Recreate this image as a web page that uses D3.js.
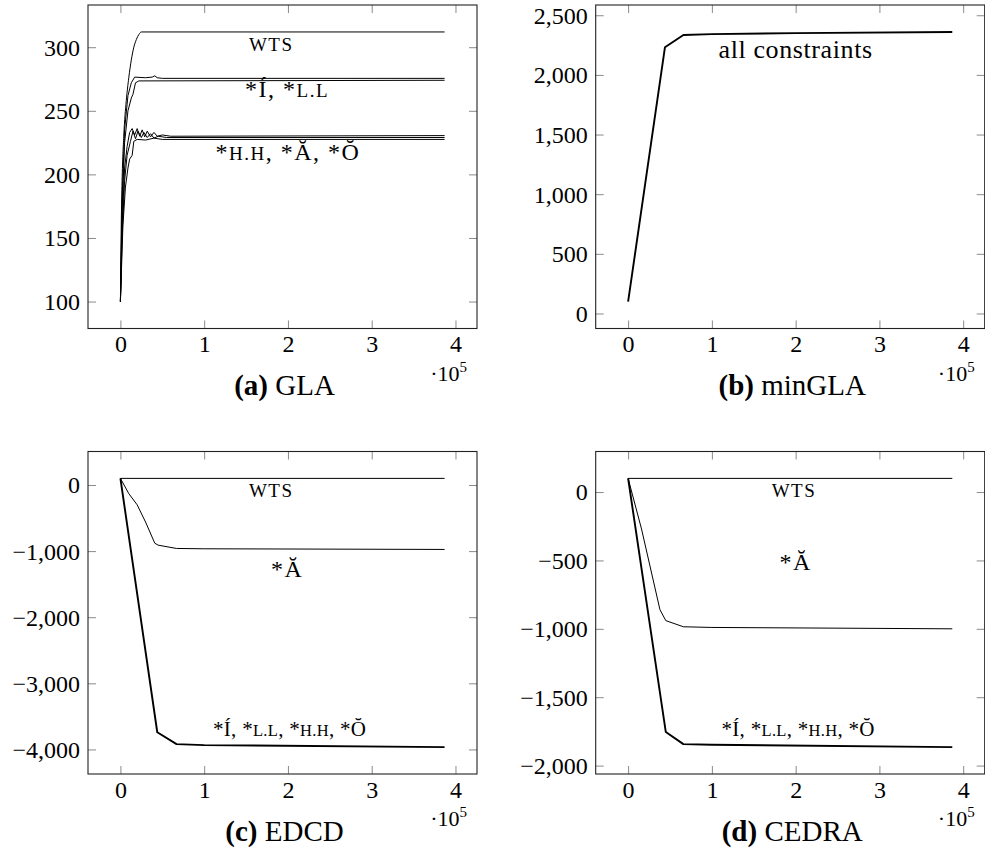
<!DOCTYPE html>
<html>
<head>
<meta charset="utf-8">
<script src="https://cdn.jsdelivr.net/npm/d3@7"></script>
<style>
  html, body { margin: 0; padding: 0; background: #fff; }
  svg { display: block; }
  text { font-family: "Liberation Serif", "Times New Roman", serif; fill: #000; }
</style>
</head>
<body>
<svg id="chart" width="985" height="850"></svg>
<script>
// ---------------- DATA ----------------
const X_MAX = 387000;
const xTicks = [0, 100000, 200000, 300000, 400000];

// (a) GLA
const glaWTS = [[0,100],[1000,160],[2000,195],[4000,230],[7000,258],[10000,276],[13000,290],[16000,300],[19000,306],[22000,310],[25000,312],[387000,312]];
const glaI   = [[0,100],[2000,180],[5000,235],[9000,262],[13000,272],[17000,276.5],[30000,276],[38000,276.5],[41000,277.5],[44000,276],[50000,275.5],[387000,275.5]];
const glaLL  = [[0,100],[2000,170],[5000,225],[9000,250],[13000,260],[15000,263],[18000,272],[22000,273.5],[387000,274]];
const glaHH  = [[0,100],[2000,160],[5000,205],[8000,222],[11000,233],[14000,236],[17000,231],[20000,236],[23000,230],[26000,235],[29000,229.5],[32000,234],[36000,229.5],[40000,233],[44000,230],[50000,231],[60000,230],[387000,230.5]];
const glaA   = [[0,100],[2000,150],[5000,195],[8000,215],[12000,226],[15000,234],[18000,228],[21000,234],[25000,229],[28000,233],[32000,229],[36000,232],[40000,228.5],[45000,230],[55000,229],[387000,229]];
const glaO   = [[0,100],[3000,160],[6000,190],[9000,205],[11000,212],[14000,215],[16000,226],[20000,227.5],[30000,227],[40000,228.5],[50000,227.5],[387000,227.5]];
const glaYTicks = [100, 150, 200, 250, 300];

// (b) minGLA
const minAll = [[0,100],[44000,2232],[66000,2334],[100000,2342],[200000,2350],[387000,2360]];
const minYTicks = [0, 500, 1000, 1500, 2000, 2500];

// (c) EDCD
const edWTS   = [[0,100],[387000,100]];
const edA     = [[0,100],[10000,-130],[20000,-300],[30000,-560],[41000,-880],[45000,-910],[67000,-960],[100000,-965],[387000,-975]];
const edOther = [[0,100],[44000,-3740],[67000,-3920],[100000,-3935],[387000,-3965]];
const edYTicks = [0, -1000, -2000, -3000, -4000];

// (d) CEDRA
const ceWTS   = [[0,100],[387000,100]];
const ceA     = [[0,100],[16000,-270],[38000,-860],[45000,-940],[66000,-985],[100000,-990],[387000,-1000]];
const ceOther = [[0,100],[45000,-1755],[66000,-1843],[100000,-1848],[387000,-1865]];
const ceYTicks = [0, -500, -1000, -1500, -2000];

// ---------------- LAYOUT ----------------
const svg = d3.select("#chart");
const PW = 389;
const TICK_FS = 24, ANN_FS = 24, SC_FS = 19, CAP_FS = 29, LS = 1.5;

const panels = [
  { left: 88, top: 5, bottom: 328.5, yTicks: glaYTicks, capLetter: "(a)", capName: "GLA",
    series: [[glaWTS,1,true],[glaI,1,false],[glaLL,1,false],[glaHH,1,false],[glaA,1,false],[glaO,1,false]],
    labels: [
      {x:180000, y:312, dy:19, a:"middle", parts:[["WTS",1]]},
      {x:199000, y:274, dy:16.5, a:"middle", parts:[["*Í, *",0],["L.L",1]]},
      {x:200000, y:227.5, dy:20.5, a:"middle", parts:[["*",0],["H.H",1],[", *Ă, *Ŏ",0]]}
    ]},
  { left: 595.7, top: 5, bottom: 328.5, yTicks: minYTicks, capLetter: "(b)", capName: "minGLA",
    series: [[minAll,2,false]],
    labels: [ {x:200000, y:2345, dy:24.5, a:"middle", ls:0.6, fs:26, parts:[["all constraints",0]]} ]},
  { left: 88, top: 451.5, bottom: 774, yTicks: edYTicks, capLetter: "(c)", capName: "EDCD",
    series: [[edWTS,1,false],[edA,1,false],[edOther,2,false]],
    labels: [
      {x:180000, y:100, dy:18.6, a:"middle", parts:[["WTS",1]]},
      {x:199000, y:-970, dy:28, a:"middle", parts:[["*Ă",0]]},
      {x:110500, y:-3950, dy:-10, a:"start", fs:21, sc:16.5, ls:0.3, parts:[["*Í, *",0],["L.L",1],[", *",0],["H.H",1],[", *Ŏ",0]]}
    ]},
  { left: 595.7, top: 451.5, bottom: 774, yTicks: ceYTicks, capLetter: "(d)", capName: "CEDRA",
    series: [[ceWTS,1,false],[ceA,1,false],[ceOther,2,false]],
    labels: [
      {x:198000, y:100, dy:18.6, a:"middle", parts:[["WTS",1]]},
      {x:200000, y:-995, dy:-58, a:"middle", parts:[["*Ă",0]]},
      {x:111500, y:-1860, dy:-10, a:"start", fs:21, sc:16.5, ls:0.3, parts:[["*Í, *",0],["L.L",1],[", *",0],["H.H",1],[", *Ŏ",0]]}
    ]}
];

panels.forEach(p => {
  const right = p.left + PW;
  const x = d3.scaleLinear().domain([-0.1 * X_MAX, 1.1 * X_MAX]).range([p.left, right]);
  const allY = p.series.flatMap(s => s[0].map(d => d[1]));
  const [ymin, ymax] = d3.extent(allY);
  const pad = 0.1 * (ymax - ymin);
  const y = d3.scaleLinear().domain([ymin - pad, ymax + pad]).range([p.bottom, p.top]);
  const g = svg.append("g");

  // ticks (inside, on all four sides)
  const tickStyle = sel => { sel.select(".domain").remove(); sel.selectAll(".tick line").attr("stroke", "#8a8a8a").attr("stroke-width", 1); };
  const fmtY = d3.format(",");
  const left = g.append("g").attr("transform", `translate(${p.left},0)`)
    .call(d3.axisLeft(y).tickValues(p.yTicks).tickSize(-8).tickPadding(8).tickFormat(fmtY));
  tickStyle(left);
  left.selectAll(".tick text").attr("font-size", TICK_FS).attr("font-family", "Liberation Serif").attr("dy", "0.33em");
  const rightAx = g.append("g").attr("transform", `translate(${right},0)`)
    .call(d3.axisRight(y).tickValues(p.yTicks).tickSize(-8).tickFormat(""));
  tickStyle(rightAx);
  const bottom = g.append("g").attr("transform", `translate(0,${p.bottom})`)
    .call(d3.axisBottom(x).tickValues(xTicks).tickSize(-8).tickFormat(d => d / 1e5));
  tickStyle(bottom);
  bottom.selectAll(".tick text").attr("font-size", TICK_FS).attr("font-family", "Liberation Serif").attr("dy", null).attr("y", 23.5);
  const topAx = g.append("g").attr("transform", `translate(0,${p.top})`)
    .call(d3.axisTop(x).tickValues(xTicks).tickSize(-8).tickFormat(""));
  tickStyle(topAx);

  // series
  p.series.forEach(([data, w, smooth]) => {
    const line = d3.line().x(d => x(d[0])).y(d => y(d[1]));
    if (smooth) line.curve(d3.curveMonotoneX);
    g.append("path").datum(data).attr("d", line)
      .attr("fill", "none").attr("stroke", "#000").attr("stroke-width", w === 2 ? 1.9 : 1)
      .attr("stroke-linejoin", "round");
  });

  // frame
  g.append("rect").attr("x", p.left).attr("y", p.top).attr("width", PW).attr("height", p.bottom - p.top)
    .attr("fill", "none").attr("stroke", "#222").attr("stroke-width", 1.1);

  // labels
  p.labels.forEach(l => {
    const fs = l.fs || ANN_FS;
    const scfs = l.sc || SC_FS;
    const t = g.append("text").attr("x", x(l.x)).attr("y", y(l.y) + l.dy)
      .attr("text-anchor", l.a).attr("font-size", fs)
      .style("letter-spacing", (l.ls !== undefined ? l.ls : LS) + "px");
    l.parts.forEach(([s, sc]) => {
      t.append("tspan").attr("font-size", sc ? scfs : fs).text(s);
    });
  });

  // x-scale multiplier
  const m = g.append("text").attr("x", right - 10).attr("y", p.bottom + 52)
    .attr("text-anchor", "end").attr("font-size", 22);
  m.append("tspan").text("·10");
  m.append("tspan").attr("font-size", 15).attr("dy", -9).text("5");

  // caption
  const c = g.append("text").attr("x", p.left + PW / 2 + 2).attr("y", p.bottom + 66.5)
    .attr("text-anchor", "middle").attr("font-size", CAP_FS);
  c.append("tspan").attr("font-weight", "bold").text(p.capLetter);
  c.append("tspan").text(" " + p.capName);
});
</script>
</body>
</html>
